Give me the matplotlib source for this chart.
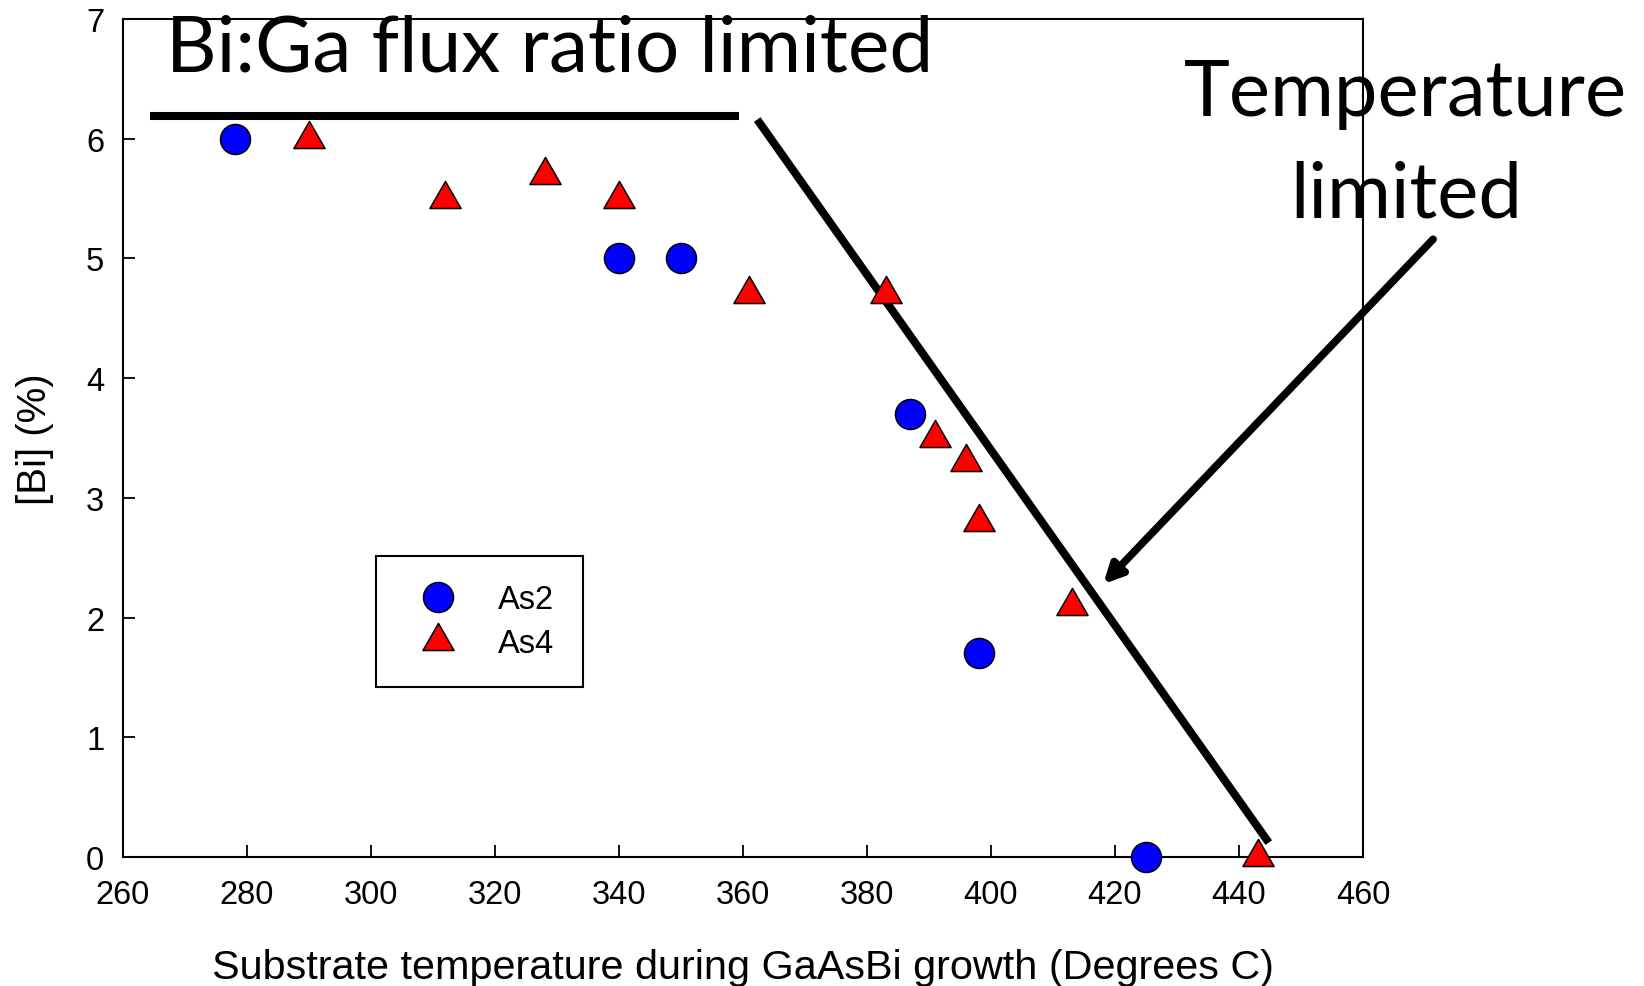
import matplotlib
matplotlib.use('Agg')
import matplotlib.pyplot as plt
from matplotlib.path import Path

# Bi content vs growth temperature, two arsenic species
as2_temp = [278, 340, 350, 387, 398, 425]
as2_bi = [6.0, 5.0, 5.0, 3.7, 1.7, 0.0]

as4_temp = [290, 312, 328, 340, 361, 383, 391, 396, 398, 413, 443]
as4_bi = [6.0, 5.5, 5.7, 5.5, 4.7, 4.7, 3.5, 3.3, 2.8, 2.1, 0.0]

# guide lines drawn by hand on the plot
flux_line_x = [264.4, 359.4]
flux_line_y = [6.19, 6.19]
temp_line_x = [362.3, 444.8]
temp_line_y = [6.16, 0.12]
arrow_from = (471.3, 5.16)
arrow_to = (418.1, 2.28)

xticks = list(range(260, 461, 20))
yticks = list(range(0, 8))

plt.rcParams['font.family'] = ['Liberation Sans', 'DejaVu Sans']

fig = plt.figure(figsize=(16.44, 9.87), dpi=100)
ax = fig.add_axes([123 / 1644, 1 - 858 / 987, (1363 - 123) / 1644, (858 - 20) / 987])

# equilateral-ish triangle centred on its centroid
tri = Path([(-1, -0.58), (1, -0.58), (0, 1.16), (-1, -0.58)], closed=True)

ax.plot(as2_temp, as2_bi, linestyle='none', marker='o', ms=21.6,
        mfc='#0000ff', mec='black', mew=1.1, label='As2', clip_on=False, zorder=4)
ax.plot(as4_temp, as4_bi, linestyle='none', marker=tri, ms=26,
        mfc='#ff0000', mec='black', mew=1.1, label='As4', clip_on=False, zorder=4)

ax.set_xlim(260, 460)
ax.set_ylim(0, 7)
ax.set_xticks(xticks)
ax.set_yticks(yticks)
ax.tick_params(direction='in', length=8.6, width=1.3, labelsize=23.5, pad=13.5,
               top=False, right=False)
ax.tick_params(axis='x', pad=16)
for s in ax.spines.values():
    s.set_linewidth(1.5)

ax.set_xlabel('Substrate temperature during GaAsBi growth (Degrees C)', fontsize=29.8, labelpad=27)
ax.set_ylabel('[Bi] (%)', fontsize=29, labelpad=23)

# regime lines
ax.plot(flux_line_x, flux_line_y, color='black', lw=5.8, solid_capstyle='butt', clip_on=False, zorder=3)
ax.plot(temp_line_x, temp_line_y, color='black', lw=5.8, solid_capstyle='butt', clip_on=False, zorder=3)
ax.annotate('', xy=arrow_to, xytext=arrow_from, annotation_clip=False,
            arrowprops=dict(arrowstyle='-|>,head_length=1.1,head_width=0.55',
                            color='black', lw=5.5, shrinkA=0, shrinkB=0))

ax.text(266.9, 6.57, 'Bi:Ga flux ratio limited', family='Lato', fontsize=56.5, va='baseline', ha='left')
ax.text(466.9, 6.20, 'Temperature', family='Lato', fontsize=56, va='baseline', ha='center')
ax.text(466.9, 5.35, 'limited', family='Lato', fontsize=56, va='baseline', ha='center')

leg = ax.legend(loc='upper left', bbox_to_anchor=(376 / 1644, 1 - 557 / 987),
                bbox_transform=fig.transFigure, fontsize=23.5, frameon=True, fancybox=False,
                framealpha=1, edgecolor='black', borderpad=0.86, handlelength=2.09,
                handletextpad=0.8, labelspacing=0.4, borderaxespad=0)
leg.get_frame().set_linewidth(1.5)

fig.savefig('out.png', dpi=100)
